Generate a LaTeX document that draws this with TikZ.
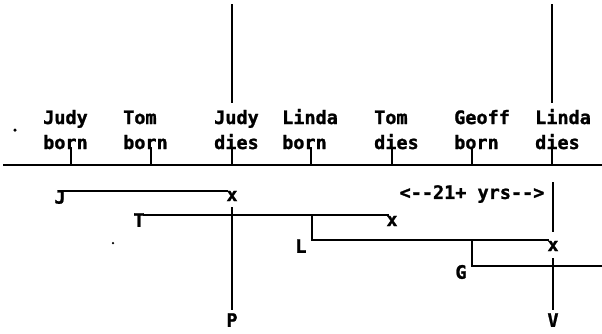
\documentclass[tikz,border=0pt]{standalone}
\usepackage{fontspec}
\newfontfamily\mono{DejaVu Sans Mono}[BoldFeatures={FakeBold=1.2}]
\begin{document}
\begin{tikzpicture}[x=1pt,y=-1pt,
  txt/.style={font=\mono\bfseries\fontsize{18.5}{18.5}\selectfont, inner sep=0pt},
  lbl/.style={txt, anchor=base west},
  ln/.style={line width=2.5pt, line cap=butt},
  speck/.style={fill=black, draw=none, circle, inner sep=0pt, minimum size=3.5pt}]
\useasboundingbox (0,0) rectangle (602,333);
% timeline
\coordinate (tlL) at (3,165);
\coordinate (tlR) at (602,165);
\draw[ln] (tlL) -- (tlR);
% event labels
\node[lbl] (l1a) at (43,124) {Judy};  \node[lbl] (l1b) at (43,149) {born};
\node[lbl] (l2a) at (123,124) {Tom};  \node[lbl] (l2b) at (123,149) {born};
\node[lbl] (l3a) at (214,124) {Judy}; \node[lbl] (l3b) at (214,149) {dies};
\node[lbl] (l4a) at (282,124) {Linda};\node[lbl] (l4b) at (282,149) {born};
\node[lbl] (l5a) at (374,124) {Tom};  \node[lbl] (l5b) at (374,149) {dies};
\node[lbl] (l6a) at (454,124) {Geoff};\node[lbl] (l6b) at (454,149) {born};
\node[lbl] (l7a) at (535,124) {Linda};\node[lbl] (l7b) at (535,149) {dies};
% ticks
\foreach \n/\x in {1/71,2/151,3/232,4/311,5/392,6/472,7/552}{
  \coordinate (t\n) at (\x,165);
  \coordinate (u\n) at (\x,147);
  \draw[line width=2pt] (t\n) -- (u\n);
}
% top verticals
\coordinate (a1) at (232,4);  \coordinate (a2) at (232,103);
\coordinate (b1) at (552,4);  \coordinate (b2) at (552,103);
\draw[ln] (a1) -- (a2);
\draw[ln] (b1) -- (b2);
% specks
\node[speck] (s1) at (15,130) {};
\node[speck, minimum size=2.5pt] (s2) at (113,243) {};
% lifelines
\node[txt] (J) at (60,197) {J};
\node[txt] (Jx) at (232,196) {x};
\node[txt] (T) at (139,220) {T};
\node[txt] (Tx) at (392,221) {x};
\node[txt] (L) at (301,246) {L};
\node[txt] (Lx) at (553,246) {x};
\node[txt] (G) at (461,272) {G};
\node[txt] (P) at (232,320) {P};
\node[txt] (V) at (553,320) {V};
\node[txt] (yrs) at (472,194) {<--21+ yrs-->};
\coordinate (j0) at (63,191);  \coordinate (j1) at (228,191);
\draw[ln] (j0) -- (j1);
\coordinate (tt0) at (143,215); \coordinate (tt1) at (389,215);
\draw[ln] (tt0) -- (tt1);
\coordinate (p0) at (232,207); \coordinate (p1) at (232,310);
\draw[ln] (p0) -- (p1);
\coordinate (lb0) at (312,215); \coordinate (lb1) at (312,240); \coordinate (lb2) at (549,240);
\draw[ln] (lb0) -- (lb1) -- (lb2);
\coordinate (gb0) at (472,240); \coordinate (gb1) at (472,266); \coordinate (gb2) at (602,266);
\draw[ln] (gb0) -- (gb1) -- (gb2);
\coordinate (v0) at (553,258); \coordinate (v1) at (553,310);
\draw[ln] (v0) -- (v1);
\coordinate (y0) at (553,182); \coordinate (y1) at (553,232);
\draw[ln] (y0) -- (y1);
\end{tikzpicture}
\end{document}
